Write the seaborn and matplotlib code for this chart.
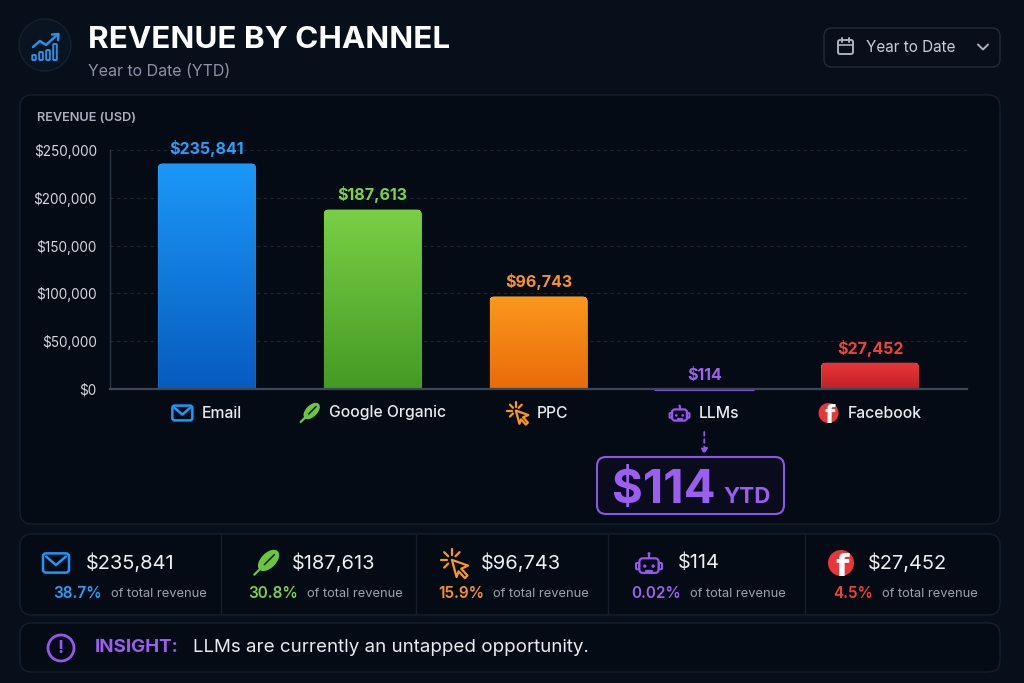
import numpy as np
import matplotlib
matplotlib.use("Agg")
import matplotlib.pyplot as plt
import seaborn as sns
import pandas as pd
from matplotlib.patches import FancyBboxPatch, Circle, Ellipse, Polygon, Rectangle
from matplotlib.colors import LinearSegmentedColormap

# ---------------- data ----------------
channels = ["Email", "Google Organic", "PPC", "LLMs", "Facebook"]
revenue = [235841, 187613, 96743, 114, 27452]
share_labels = ["38.7%", "30.8%", "15.9%", "0.02%", "4.5%"]
y_ticks = [0, 50000, 100000, 150000, 200000, 250000]
title_text = "REVENUE BY CHANNEL"
subtitle_text = "Year to Date (YTD)"
period_text = "Year to Date"
axis_title = "REVENUE (USD)"
share_suffix = "of total revenue"
callout_suffix = "YTD"
insight_head = "INSIGHT:"
insight_text = "LLMs are currently an untapped opportunity."

# ---------------- style ----------------
top_colors = ["#1b98f8", "#79d045", "#fb981c", "#8e55e6", "#e8373a"]
bottom_colors = ["#085bc0", "#459a25", "#e96b0a", "#7b45d0", "#c21f27"]
text_colors = ["#2a9df6", "#7fd049", "#f8931f", "#9b62f0", "#f1413b"]
PURPLE = "#9457ec"
BG = "#07101a"
PANEL = "#050b14"
BORDER = "#161f2b"

sns.set_theme(style="dark")
plt.rcParams['font.family'] = ['Inter', 'DejaVu Sans']

fig = plt.figure(figsize=(10.24, 6.83), dpi=100, facecolor=BG)
ov = fig.add_axes([0, 0, 1, 1])
ov.set_xlim(0, 1024)
ov.set_ylim(683, 0)
ov.axis('off')
ov.set_zorder(0)


def panel(x0, y0, x1, y1, r=12, fc=PANEL, ec=BORDER, lw=1.0, z=1):
    p = FancyBboxPatch((x0, y0), x1 - x0, y1 - y0,
                       boxstyle=f"round,pad=0,rounding_size={r}",
                       fc=fc, ec=ec, lw=lw, zorder=z)
    ov.add_patch(p)
    return p


def envelope(cx, cy, s, c, lw=1.8):
    w, h = s, 0.74 * s
    ov.add_patch(FancyBboxPatch((cx - w / 2, cy - h / 2), w, h,
                                boxstyle=f"round,pad=0,rounding_size={0.12 * s}",
                                fc='none', ec=c, lw=lw, zorder=5))
    ov.plot([cx - w / 2 + 0.12 * s, cx, cx + w / 2 - 0.12 * s],
            [cy - h / 2 + 0.12 * s, cy + 0.08 * s, cy - h / 2 + 0.12 * s],
            color=c, lw=lw, zorder=5, solid_capstyle='round')


def leaf(cx, cy, s, c, dark):
    ov.add_patch(Ellipse((cx + 0.1 * s, cy - 0.1 * s), 1.0 * s, 0.58 * s,
                         angle=-45, fc=c, ec='none', zorder=5))
    ov.plot([cx - 0.12 * s, cx + 0.32 * s], [cy + 0.12 * s, cy - 0.32 * s],
            color=dark, lw=1.1, zorder=6, solid_capstyle='round')
    ov.plot([cx - 0.45 * s, cx - 0.1 * s], [cy + 0.45 * s, cy + 0.1 * s],
            color=c, lw=1.6, zorder=6, solid_capstyle='round')


def cursor(cx, cy, s, c, lw=1.6):
    tx, ty = cx - 0.12 * s, cy - 0.12 * s
    pts = np.array([(0, 0), (0.62, 0.22), (0.36, 0.34), (0.6, 0.6),
                    (0.5, 0.7), (0.26, 0.44), (0.18, 0.66)]) * s
    pts[:, 0] += tx
    pts[:, 1] += ty
    ov.add_patch(Polygon(pts, closed=True, fc='none', ec=c, lw=lw,
                         joinstyle='round', zorder=5))
    for ang in [90, 135, 180, 45, 225]:
        a = np.deg2rad(ang)
        r0, r1 = 0.2 * s, 0.42 * s
        ov.plot([tx + r0 * np.cos(a), tx + r1 * np.cos(a)],
                [ty - r0 * np.sin(a), ty - r1 * np.sin(a)],
                color=c, lw=lw, zorder=5, solid_capstyle='round')


def robot(cx, cy, s, c, lw=1.6):
    w, h = 0.74 * s, 0.56 * s
    top = cy - h / 2 + 0.1 * s
    ov.add_patch(FancyBboxPatch((cx - w / 2, top), w, h,
                                boxstyle=f"round,pad=0,rounding_size={0.14 * s}",
                                fc='none', ec=c, lw=lw, zorder=5))
    for sx in (-1, 1):
        ov.add_patch(FancyBboxPatch((cx + sx * (w / 2 + 0.07 * s) - 0.06 * s, cy + 0.0 * s),
                                    0.12 * s, 0.24 * s,
                                    boxstyle=f"round,pad=0,rounding_size={0.04 * s}",
                                    fc='none', ec=c, lw=lw * 0.9, zorder=5))
        ov.add_patch(Circle((cx + sx * 0.16 * s, cy + 0.12 * s), 0.065 * s,
                            fc=c, ec='none', zorder=5))
    ov.plot([cx, cx], [top, top - 0.14 * s], color=c, lw=lw, zorder=5)
    ov.add_patch(Circle((cx, top - 0.18 * s), 0.06 * s, fc=c, ec='none', zorder=5))
    ov.plot([cx - 0.1 * s, cx + 0.1 * s], [cy + 0.3 * s, cy + 0.3 * s],
            color=c, lw=lw, zorder=5, solid_capstyle='round')


def fb(cx, cy, s, c):
    ov.add_patch(Circle((cx, cy), s / 2, fc=c, ec='none', zorder=5))
    ov.text(cx + 0.06 * s, cy + 0.16 * s, "f", color='white', fontsize=s * 0.85,
            fontweight='bold', ha='center', va='center', zorder=6,
            family=['DejaVu Sans'], clip_on=False)


icon_funcs = [
    lambda x, y, s: envelope(x, y, s, top_colors[0]),
    lambda x, y, s: leaf(x, y, s, "#6cc63d", "#0a1a0a"),
    lambda x, y, s: cursor(x, y, s, top_colors[2]),
    lambda x, y, s: robot(x, y, s, PURPLE),
    lambda x, y, s: fb(x, y, s, top_colors[4]),
]

# ---------------- header ----------------
ov.add_patch(Circle((45, 45), 26, fc="#0a1320", ec="#17212e", lw=1, zorder=2))
HB = "#2b8fe2"
for bx, bh in zip([34, 41, 48, 55], [5, 8, 10, 16]):
    ov.add_patch(FancyBboxPatch((bx - 1.8, 60 - bh), 3.6, bh,
                                boxstyle="round,pad=0,rounding_size=0.8",
                                fc='none', ec=HB, lw=1.4, zorder=3))
ov.plot([33, 40, 46, 57], [47, 41, 45, 35], color=HB, lw=1.8, zorder=3,
        solid_joinstyle='round', solid_capstyle='round')
ov.plot([52, 58.5, 58], [34.5, 34, 40], color=HB, lw=1.8, zorder=3,
        solid_joinstyle='round', solid_capstyle='round')

ov.text(88, 40, title_text, color="white", fontsize=22.6, fontweight='bold',
        ha='left', va='center', zorder=3)
ov.text(88, 71, subtitle_text, color="#8a93a3", fontsize=11.5,
        ha='left', va='center', zorder=3)

panel(824, 28, 1000, 67, r=8, fc="#07101a", ec="#232d3b")
CAL = "#aab2be"
ov.add_patch(FancyBboxPatch((838, 40), 15, 14, boxstyle="round,pad=0,rounding_size=2",
                            fc='none', ec=CAL, lw=1.4, zorder=3))
ov.plot([838, 853], [44.5, 44.5], color=CAL, lw=1.2, zorder=3)
ov.plot([842, 842], [37.5, 42], color=CAL, lw=1.4, zorder=3)
ov.plot([849, 849], [37.5, 42], color=CAL, lw=1.4, zorder=3)
ov.text(866, 47, period_text, color="#c9ced6", fontsize=11, ha='left', va='center', zorder=3)
ov.plot([978, 983, 988], [44.5, 49.5, 44.5], color=CAL, lw=1.4, zorder=3,
        solid_capstyle='round', solid_joinstyle='round')

# ---------------- chart panel ----------------
panel(20, 95, 1000, 524, r=12)
ov.text(37, 118, axis_title, color="#aab1bd", fontsize=9.2, fontweight='semibold',
        ha='left', va='center', zorder=3)

ax = fig.add_axes([110 / 1024, 1 - 389 / 683, 857 / 1024, 239 / 683])
ax.set_zorder(2)
ax.patch.set_alpha(0)
df = pd.DataFrame({"channel": channels, "revenue": revenue})
sns.barplot(data=df, x="channel", y="revenue", hue="channel", palette=top_colors,
            width=0.59, saturation=1, legend=False, ax=ax, zorder=3)

XL = (-0.585, 4.585)
YL = (0, 250000)
px_x = 857 / (XL[1] - XL[0])
px_y = 239 / (YL[1] - YL[0])
aspect = px_x / px_y
bars = list(ax.patches)
for i, bar in enumerate(bars):
    x, w, h = bar.get_x(), bar.get_width(), bar.get_height()
    if h * px_y < 8:
        bar.set_edgecolor(top_colors[i])
        bar.set_linewidth(2.2)
        bar.set_clip_on(False)
        bar.set_capstyle('round')
        continue
    r = 5 / px_x
    clip = FancyBboxPatch((x, -r * aspect), w, h + r * aspect,
                          boxstyle=f"round,pad=0,rounding_size={r}",
                          mutation_aspect=aspect, fc='none', ec='none')
    ax.add_patch(clip)
    bar.set_clip_path(clip)
    cmap = LinearSegmentedColormap.from_list(f"g{i}", [bottom_colors[i], top_colors[i]])
    grad = np.linspace(0, 1, 256).reshape(-1, 1)
    im = ax.imshow(grad, cmap=cmap, extent=[x, x + w, 0, h], origin='lower',
                   aspect='auto', zorder=3.5, interpolation='bicubic')
    im.set_clip_path(clip)

for i, v in enumerate(revenue):
    ax.annotate(f"${v:,}", (i, v), xytext=(0, 4.5), textcoords='offset points',
                ha='center', va='bottom', color=text_colors[i], fontsize=11.5,
                fontweight='bold', annotation_clip=False, zorder=6)

ax.set_xlim(*XL)
ax.set_ylim(*YL)
ax.set_yticks(y_ticks)
ax.set_yticklabels([f"${t:,}" for t in y_ticks])
ax.tick_params(axis='y', length=0, pad=9.5, labelcolor="#d3d8df", labelsize=9.8)
ax.set_xticks([])
ax.set_xlabel("")
ax.set_ylabel("")
ax.grid(False)
ax.yaxis.grid(True, color="#1c2634", lw=0.8, ls=(0, (3, 3)))
ax.set_axisbelow(True)
for sp in ["top", "right"]:
    ax.spines[sp].set_visible(False)
ax.spines["left"].set_color("#2c3745")
ax.spines["left"].set_linewidth(1.0)
ax.spines["bottom"].set_color("#3c4858")
ax.spines["bottom"].set_linewidth(1.6)
ax.spines["bottom"].set_zorder(4)

# category labels with icons
fig.canvas.draw()
renderer = fig.canvas.get_renderer()
centers_px = [ax.transData.transform((i, 0))[0] for i in range(len(channels))]
for i, name in enumerate(channels):
    t = ov.text(0, 413, name, color="#e8ebef", fontsize=11.3, fontweight='medium',
                ha='left', va='center', zorder=5)
    tw = t.get_window_extent(renderer).width
    icon_w, gap = 20, 9
    gx = centers_px[i] - (icon_w + gap + tw) / 2
    t.set_x(gx + icon_w + gap)
    icon_funcs[i](gx + icon_w / 2, 413, 20)

# LLM callout
li = channels.index("LLMs")
lx = centers_px[li]
ov.annotate("", xy=(lx, 455), xytext=(lx, 432),
            arrowprops=dict(arrowstyle='-|>', color=PURPLE, lw=1.3,
                            linestyle=(0, (2, 2)), mutation_scale=9,
                            shrinkA=0, shrinkB=0), zorder=5)
panel(597, 457, 784, 514, r=9, fc="#0a0b1c", ec="#8b55e6", lw=1.5, z=3)
ov.text(612, 503, f"${revenue[li]:,}", color="#9b5ff0", fontsize=34, fontweight='bold',
        ha='left', va='baseline', zorder=5)
ov.text(723, 503, callout_suffix, color="#9b5ff0", fontsize=16, fontweight='bold',
        ha='left', va='baseline', zorder=5)

# ---------------- stats row ----------------
panel(20, 534, 1000, 615, r=12)
for dx in [221, 416, 608, 805]:
    ov.plot([dx, dx], [535, 614], color=BORDER, lw=1, zorder=2)
icon_x = [56, 266, 455, 649, 841]
val_x = [86, 292, 481, 678, 868]
pct_x = [53, 248, 438, 631, 833]
for i in range(len(channels)):
    icon_funcs[i](icon_x[i], 563, 26)
    ov.text(val_x[i], 563, f"${revenue[i]:,}", color="#eef0f3", fontsize=14.4,
            ha='left', va='center', zorder=5)
    pt = ov.text(pct_x[i], 594, share_labels[i], color=text_colors[i], fontsize=11,
                 fontweight='semibold', ha='left', va='center', zorder=5)
    pw = pt.get_window_extent(renderer).width
    ov.text(pct_x[i] + pw + 9, 594, share_suffix, color="#9aa2ae", fontsize=9.3,
            ha='left', va='center', zorder=5)

# ---------------- insight row ----------------
panel(20, 623, 1000, 672, r=12)
ov.add_patch(Circle((61, 648), 13, fc='none', ec=PURPLE, lw=2, zorder=5))
ov.text(61, 648.5, "!", color=PURPLE, fontsize=13, fontweight='bold',
        ha='center', va='center', zorder=6)
ov.text(95, 648, insight_head, color="#9b5ff0", fontsize=13.5, fontweight='bold',
        ha='left', va='center', zorder=5)
ov.text(193, 648, insight_text, color="#e8eaee", fontsize=13.5,
        ha='left', va='center', zorder=5)

fig.savefig("out.png", dpi=100, facecolor=BG)
